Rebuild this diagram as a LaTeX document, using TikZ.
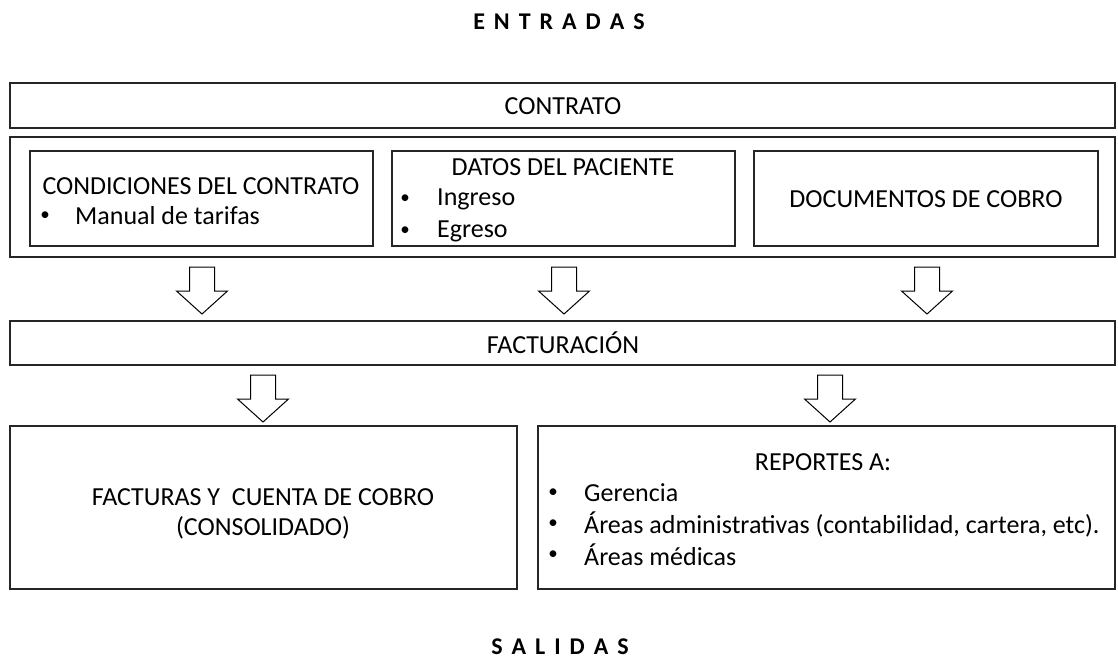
\documentclass[tikz,border=0pt]{standalone}
\usepackage{fontspec}
\setmainfont{Carlito}
\newcommand\gap{\hspace{9pt}}
\begin{document}
\begin{tikzpicture}[x=1pt,y=-1pt,
  box/.style={draw=black!85,line width=1.3pt},
  txt/.style={inner sep=0pt,font=\fontsize{26}{31}\selectfont},
  bul/.style={inner sep=0pt,font=\fontsize{19}{22}\selectfont},
  head/.style={inner sep=0pt,font=\fontsize{24}{29}\selectfont\bfseries},
  blk/.style={draw=black,line width=1pt,fill=white},
  pics/downarrow/.style={code={
    \draw[blk] (-12.5,0) -- (12.5,0) -- (12.5,24) -- (25.5,24) -- (0,47)
      -- (-25.5,24) -- (-12.5,24) -- cycle;}}]
\useasboundingbox (0,0) rectangle (1118,661);

% titles
\node[head] (entradas) at (559,22) {E\gap N\gap T\gap R\gap A\gap D\gap A\gap S};
\node[head] (salidas) at (560,647) {S\gap A\gap L\gap I\gap D\gap A\gap S};

% CONTRATO row
\draw[box] (10,83) rectangle (1115,128);
\node[txt] (contrato) at (563,106) {CONTRATO};

% big container
\draw[box] (10,137) rectangle (1115,257);

% box 1
\draw[box] (30,151) rectangle (373,246);
\node[txt] (cond) at (201,186) {CONDICIONES DEL CONTRATO};
\node[bul] (b1) at (45,216) {•};
\node[txt,anchor=west] (manual) at (75,216) {Manual de tarifas};

% box 2
\draw[box] (392,151) rectangle (735,246);
\node[txt] (datos) at (563,167) {DATOS DEL PACIENTE};
\node[bul] (b2) at (405,199) {•};
\node[txt,anchor=west] (ingreso) at (437,199) {Ingreso};
\node[bul] (b3) at (405,231) {•};
\node[txt,anchor=west] (egreso) at (437,231) {Egreso};

% box 3
\draw[box] (754,151) rectangle (1098,246);
\node[txt] (docs) at (926,199) {DOCUMENTOS DE COBRO};

% arrows row 1
\coordinate (a1) at (202,267);
\coordinate (a2) at (564,267);
\coordinate (a3) at (927,267);
\pic at (a1) {downarrow};
\pic at (a2) {downarrow};
\pic at (a3) {downarrow};

% FACTURACION
\draw[box] (10,321) rectangle (1115,365);
\node[txt] (fact) at (563,343) {FACTURACIÓN};

% arrows row 2
\coordinate (a4) at (263,375);
\coordinate (a5) at (830,375);
\pic at (a4) {downarrow};
\pic at (a5) {downarrow};

% bottom left
\draw[box] (10,426) rectangle (517,589);
\node[txt] (facturas) at (263,497) {FACTURAS Y\ \ CUENTA DE COBRO};
\node[txt] (consol) at (263,528) {(CONSOLIDADO)};

% bottom right
\draw[box] (538,426) rectangle (1115,589);
\node[txt] (rep) at (823,462) {REPORTES A:};
\node[bul] (b4) at (553,493) {•};
\node[txt,anchor=west] (ger) at (584,493) {Gerencia};
\node[bul] (b5) at (553,524) {•};
\node[txt,anchor=west] (adm) at (584,524) {Áreas administrativas (contabilidad, cartera, etc).};
\node[bul] (b6) at (553,555) {•};
\node[txt,anchor=west] (med) at (584,555) {Áreas médicas};
\end{tikzpicture}
\end{document}
